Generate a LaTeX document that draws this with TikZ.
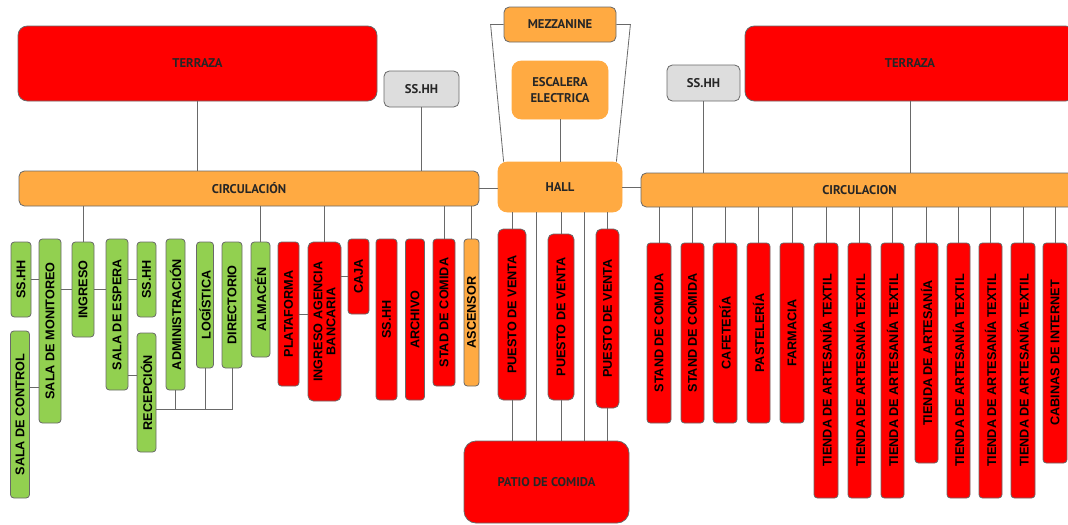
\documentclass[tikz,border=0pt]{standalone}
\usepackage{fontspec}
\usepackage{graphicx}
\setmainfont{Liberation Sans}
\newfontfamily\lblfont{PT Sans}
\definecolor{rojo}{RGB}{255,0,0}
\definecolor{naranja}{RGB}{255,170,66}
\definecolor{verde}{RGB}{146,208,80}
\definecolor{gris}{RGB}{221,221,221}
\definecolor{borde}{RGB}{105,105,105}
\newcommand{\vt}[1]{\rotatebox{90}{#1}}
\tikzset{
  sz/.style 2 args={minimum width=#1*.75pt,minimum height=#2*.75pt},
  sala/.style={draw=borde,line width=.6pt,inner sep=0pt,rounded corners=2.5pt,
    font=\fontsize{9.5}{11}\selectfont\bfseries},
  salaR/.style={sala,fill=rojo},
  salaV/.style={sala,fill=verde},
  salaN/.style={sala,fill=naranja},
  bloque/.style={draw=borde,line width=.6pt,inner sep=0pt,rounded corners=7pt,text=black!85,
    font=\lblfont\bfseries\fontsize{9.5}{12}\selectfont,align=center},
  link/.style={draw=borde,line width=.6pt}
}
\begin{document}
\begin{tikzpicture}[x=.75pt,y=-.75pt]
\useasboundingbox (0,0) rectangle (1068,525);
% bloques superiores
\node[bloque,fill=rojo,sz={359}{75}] at (197.5,63.5) (terrI) {TERRAZA};
\node[bloque,fill=gris,sz={75}{36},rounded corners=4pt] at (421.5,89) (sshI) {SS.HH};
\node[bloque,fill=naranja,sz={460}{35},rounded corners=4pt] at (249,188.5) (circI) {CIRCULACIÓN};
\node[bloque,fill=naranja,sz={112}{35},rounded corners=4pt] at (560,24.5) (mezz) {MEZZANINE};
\node[bloque,fill=naranja,draw=naranja,sz={96}{58}] at (560,90) (esc) {ESCALERA\\ELECTRICA};
\node[bloque,fill=naranja,draw=naranja,sz={124}{50}] at (560,187) (hall) {HALL};
\node[bloque,fill=naranja,sz={437}{34},rounded corners=4pt] at (859.5,190) (circD) {CIRCULACION};
\node[bloque,fill=gris,sz={73}{36},rounded corners=4pt] at (703.5,83) (sshD) {SS.HH};
\node[bloque,fill=rojo,sz={330}{75}] at (910,63.5) (terrD) {TERRAZA};
\draw[link] (terrI.south) -- (terrI.south |- circI.north);
\draw[link] (sshI.south) -- (sshI.south |- circI.north);
\draw[link] (sshD.south) -- (sshD.south |- circD.north);
\draw[link] (terrD.south) -- (terrD.south |- circD.north);
\draw[link] (circI.east) -- (circI.east -| hall.west);
\draw[link] (hall.east) -- (hall.east -| circD.west);
\draw[link] (esc.south) -- (hall.north);
\draw[link] (mezz.west) -- ++(-13,0) -- ([xshift=4.5pt]hall.north west);
\draw[link] (mezz.east) -- ++(14,0) -- ([xshift=-4.5pt]hall.north east);
% lado izquierdo
\node[salaV,sz={20}{75}] at (21,279.5) (sshA) {\vt{SS.HH}};
\node[salaV,sz={19}{167}] at (20,414.5) (ctrl) {\vt{SALA DE CONTROL}};
\node[salaV,sz={22}{184}] at (50,331) (moni) {\vt{SALA DE MONITOREO}};
\node[salaV,sz={22}{95}] at (83,289.5) (ingr) {\vt{INGRESO}};
\node[salaV,sz={22}{151}] at (117,314.5) (esp) {\vt{SALA DE ESPERA}};
\node[salaV,sz={19}{75}] at (146.5,279.5) (sshB) {\vt{SS.HH}};
\node[salaV,sz={19}{119}] at (146.5,392.5) (recep) {\vt{RECEPCIÓN}};
\node[salaV,sz={19}{151}] at (175.5,314.5) (admin) {\vt{ADMINISTRACIÓN}};
\node[salaV,sz={17}{126}] at (205,305) (logis) {\vt{LOGÍSTICA}};
\node[salaV,sz={20}{126}] at (232,305) (direc) {\vt{DIRECTORIO}};
\node[salaV,sz={19}{115}] at (260.5,299.5) (almac) {\vt{ALMACÉN}};
\node[salaR,sz={21}{144}] at (288.5,314) (plat) {\vt{PLATAFORMA}};
\node[salaR,sz={33}{159},rounded corners=4pt] at (324.5,321.5) (banca) {\vt{\shortstack{INGRESO AGENCIA\\BANCARIA}}};
\node[salaR,sz={21}{75}] at (358.5,276.5) (caja) {\vt{CAJA}};
\node[salaR,sz={21}{161}] at (386.5,319.5) (sshC) {\vt{SS.HH}};
\node[salaR,sz={19}{161}] at (415,319.5) (archi) {\vt{ARCHIVO}};
\node[salaR,sz={22}{147}] at (444,312.5) (stad) {\vt{STAD DE COMIDA}};
\node[salaN,sz={15}{147}] at (471.5,312.5) (ascen) {\vt{ASCENSOR}};
\draw[link] (ingr.north) -- (ingr.north |- circI.south);
\draw[link] (almac.north) -- (almac.north |- circI.south);
\draw[link] (banca.north) -- (banca.north |- circI.south);
\draw[link] (stad.north) -- (stad.north |- circI.south);
\draw[link] (ascen.north) -- (ascen.north |- circI.south);
\draw[link] (sshA.east) -- (sshA.east -| moni.west);
\draw[link] ([yshift=20.6pt]ctrl.east) -- ([yshift=20.6pt]ctrl.east -| moni.west);
\draw[link] (ingr.west) -- (ingr.west -| moni.east);
\draw[link] (ingr.east) -- (ingr.east -| esp.west);
\draw[link] (sshB.west) -- (sshB.west -| esp.east);
\draw[link] ([yshift=13.1pt]recep.west) -- ([yshift=13.1pt]recep.west -| esp.east);
\coordinate (bus) at ([yshift=-12.4pt]recep.east);
\draw[link] (bus) -| (direc.south);
\draw[link] (admin.south) -- (admin.south |- bus);
\draw[link] (logis.south) -- (logis.south |- bus);
\draw[link] (plat.east) -- (plat.east -| banca.west);
\draw[link] (caja.west) -- (caja.west -| banca.east);
% centro
\node[salaR,sz={28}{171},rounded corners=4pt] at (512,314.5) (pv1) {\vt{PUESTO DE VENTA}};
\node[salaR,sz={26}{166},rounded corners=4pt] at (561,317) (pv2) {\vt{PUESTO DE VENTA}};
\node[salaR,sz={23}{179},rounded corners=4pt] at (607.5,318.5) (pv3) {\vt{PUESTO DE VENTA}};
\node[bloque,fill=rojo,sz={165}{82},rounded corners=9pt] at (546.5,482) (patio) {PATIO DE COMIDA};
\draw[link] (pv1.north) -- (pv1.north |- hall.south); \draw[link] (pv1.south) -- (pv1.south |- patio.north);
\draw[link] (pv2.north) -- (pv2.north |- hall.south); \draw[link] (pv2.south) -- (pv2.south |- patio.north);
\draw[link] (pv3.north) -- (pv3.north |- hall.south); \draw[link] (pv3.south) -- (pv3.south |- patio.north);
\draw[link] ([xshift=-18pt]hall.south) -- ([xshift=-18pt]hall.south |- patio.north);
\draw[link] ([xshift=18pt]hall.south) -- ([xshift=18pt]hall.south |- patio.north);
% lado derecho
\node[salaR,sz={24}{180}] at (659,333) (stc1) {\vt{STAND DE COMIDA}};
\node[salaR,sz={23}{180}] at (692.5,333) (stc2) {\vt{STAND DE COMIDA}};
\node[salaR,sz={24}{180}] at (725,333) (cafe) {\vt{CAFETERÍA}};
\node[salaR,sz={23}{180}] at (758.5,333) (paste) {\vt{PASTELERÍA}};
\node[salaR,sz={24}{180}] at (792,333) (farma) {\vt{FARMACIA}};
\node[salaR,sz={24}{255}] at (826,370.5) (tex1) {\vt{TIENDA DE ARTESANÍA TEXTIL}};
\node[salaR,sz={23}{255}] at (859.5,370.5) (tex2) {\vt{TIENDA DE ARTESANÍA TEXTIL}};
\node[salaR,sz={23}{255}] at (892.5,370.5) (tex3) {\vt{TIENDA DE ARTESANÍA TEXTIL}};
\node[salaR,sz={23}{220}] at (926.5,353) (arte) {\vt{TIENDA DE ARTESANÍA}};
\node[salaR,sz={23}{255}] at (958.5,370.5) (tex4) {\vt{TIENDA DE ARTESANÍA TEXTIL}};
\node[salaR,sz={23}{255}] at (990.5,370.5) (tex5) {\vt{TIENDA DE ARTESANÍA TEXTIL}};
\node[salaR,sz={24}{255}] at (1023,370.5) (tex6) {\vt{TIENDA DE ARTESANÍA TEXTIL}};
\node[salaR,sz={24}{220}] at (1055,353) (cabin) {\vt{CABINAS DE INTERNET}};
\draw[link] (stc1.north) -- (stc1.north |- circD.south); \draw[link] (stc2.north) -- (stc2.north |- circD.south);
\draw[link] (cafe.north) -- (cafe.north |- circD.south); \draw[link] (paste.north) -- (paste.north |- circD.south);
\draw[link] (farma.north) -- (farma.north |- circD.south); \draw[link] (tex1.north) -- (tex1.north |- circD.south);
\draw[link] (tex2.north) -- (tex2.north |- circD.south); \draw[link] (tex3.north) -- (tex3.north |- circD.south);
\draw[link] (arte.north) -- (arte.north |- circD.south); \draw[link] (tex4.north) -- (tex4.north |- circD.south);
\draw[link] (tex5.north) -- (tex5.north |- circD.south); \draw[link] (tex6.north) -- (tex6.north |- circD.south);
\draw[link] (cabin.north) -- (cabin.north |- circD.south);
\end{tikzpicture}
\end{document}
